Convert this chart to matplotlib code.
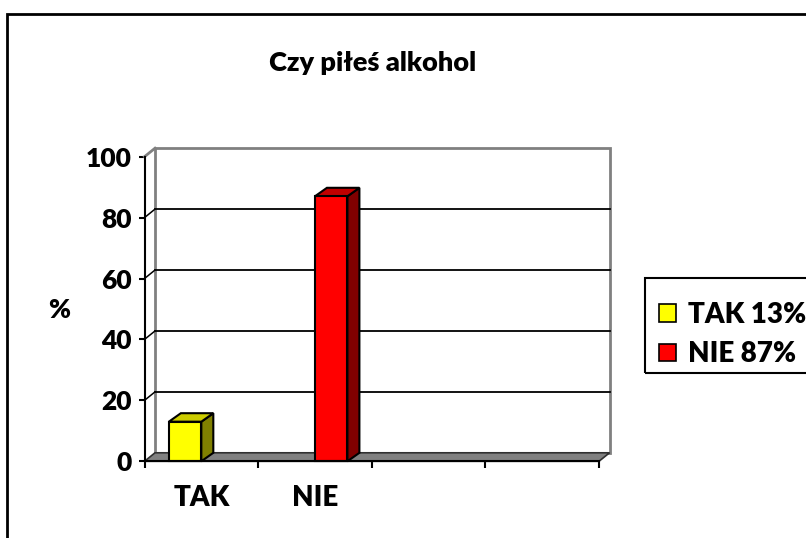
import numpy as np
import matplotlib
matplotlib.use('Agg')
import matplotlib.pyplot as plt
from matplotlib.patches import Rectangle, Polygon, Patch

plt.rcParams['font.family'] = ['Lato', 'DejaVu Sans']
plt.rcParams['font.weight'] = 'heavy'

# data
title = 'Czy piłeś alkohol'
categories = ['TAK', 'NIE', '', '']
series_names = ['TAK 13%', 'NIE 87%']
tak_values = [13, None, None, None]
nie_values = [None, 87, None, None]
series_values = [tak_values, nie_values]

# front / side / top shades for each series
front_colors = ['#ffff00', '#ff0000']
side_colors = ['#808000', '#800000']
top_colors = ['#cccc00', '#c00000']

W_PX, H_PX = 806, 538
fig = plt.figure(figsize=(W_PX / 100, H_PX / 100), dpi=100)

# front plane of the 3d box, in pixels
left, right, top, bottom = 144.5, 599, 156.7, 461.3
ax = fig.add_axes([left / W_PX, 1 - bottom / H_PX,
                   (right - left) / W_PX, (bottom - top) / H_PX])
n = len(categories)
x0, x1 = -0.5, n - 0.5
ax.set_xlim(x0, x1)
ax.set_ylim(0, 100)

# depth offsets, pixels -> data units
px_x = (right - left) / (x1 - x0)
px_y = (bottom - top) / 100.0
wdx, wdy = 10.5 / px_x, 8.5 / px_y
bdx, bdy = 12 / px_x, 8.5 / px_y

wall_gray = '#808080'
# back wall
ax.add_patch(Rectangle((x0 + wdx, wdy), x1 - x0, 100, facecolor='white',
                       edgecolor=wall_gray, lw=2, zorder=1, clip_on=False))
for v in [20, 40, 60, 80]:
    ax.plot([x0 + wdx, x1 + wdx], [v + wdy, v + wdy], color='black', lw=1.3,
            zorder=2, clip_on=False)
    ax.plot([x0, x0 + wdx], [v, v + wdy], color='black', lw=1.1,
            zorder=2, clip_on=False)
ax.plot([x0, x0 + wdx], [100, 100 + wdy], color=wall_gray, lw=2,
        zorder=2, clip_on=False)

# floor
ax.add_patch(Polygon([(x0, 0), (x1, 0), (x1 + wdx, wdy), (x0 + wdx, wdy)],
                     closed=True, facecolor=wall_gray, edgecolor='#303030',
                     lw=1.2, zorder=3, clip_on=False))

# bars
bw = 1 / (len(series_values) + 1.5)
for j, vals in enumerate(series_values):
    for i, v in enumerate(vals):
        if v is None:
            continue
        xl = i - bw + j * bw
        kw = dict(edgecolor='black', lw=1.5, zorder=5, clip_on=False,
                  joinstyle='miter')
        ax.add_patch(Polygon([(xl + bw, 0), (xl + bw + bdx, bdy),
                              (xl + bw + bdx, v + bdy), (xl + bw, v)],
                             closed=True, facecolor=side_colors[j], **kw))
        ax.add_patch(Polygon([(xl, v), (xl + bw, v), (xl + bw + bdx, v + bdy),
                              (xl + bdx, v + bdy)],
                             closed=True, facecolor=top_colors[j], **kw))
        ax.add_patch(Rectangle((xl, 0), bw, v, facecolor=front_colors[j], **kw))

# axes lines and ticks
for s in ['top', 'right']:
    ax.spines[s].set_visible(False)
for s in ['left', 'bottom']:
    ax.spines[s].set_color('black')
    ax.spines[s].set_linewidth(1.5)
    ax.spines[s].set_zorder(6)
ax.set_yticks([0, 20, 40, 60, 80, 100])
ax.tick_params(axis='y', length=4, width=1.5, pad=5, labelsize=19)
ax.set_xticks(np.arange(x0, x1 + 0.01, 1.0))
ax.set_xticklabels([])
ax.tick_params(axis='x', which='major', length=5, width=1.5)
ax.set_xticks(np.arange(n), minor=True)
ax.set_xticklabels(categories, minor=True)
ax.tick_params(axis='x', which='minor', length=0, pad=17, labelsize=20)
ax.patch.set_visible(False)

fig.text(59 / W_PX, 1 - 310 / H_PX, '%', fontsize=19, ha='center', va='center')
fig.text(373 / W_PX, 1 - 71 / H_PX, title, fontsize=19.5, ha='center',
         va='baseline')

# legend, frame drawn separately so it can run off the edge like the original
handles = [Patch(facecolor=c, edgecolor='black', lw=1.2) for c in front_colors]
leg = fig.legend(handles, series_names, loc='upper left',
                 bbox_to_anchor=(645 / W_PX, 1 - 288 / H_PX),
                 fontsize=20, frameon=False, handlelength=0.6,
                 handleheight=0.6, handletextpad=0.45, labelspacing=0.48,
                 borderpad=0.5, borderaxespad=0)
fig.patches.append(Rectangle((645 / W_PX, 1 - 373 / H_PX), 0.5, 95 / H_PX,
                             transform=fig.transFigure, fill=False,
                             edgecolor='black', lw=1.5))

# outer chart border, runs off the right and bottom edges
fig.patches.append(Rectangle((7 / W_PX, -0.1), 1.2, 1.1 - 14 / H_PX,
                             transform=fig.transFigure, fill=False,
                             edgecolor='black', lw=2, zorder=0))

fig.savefig('out.png', dpi=100)
